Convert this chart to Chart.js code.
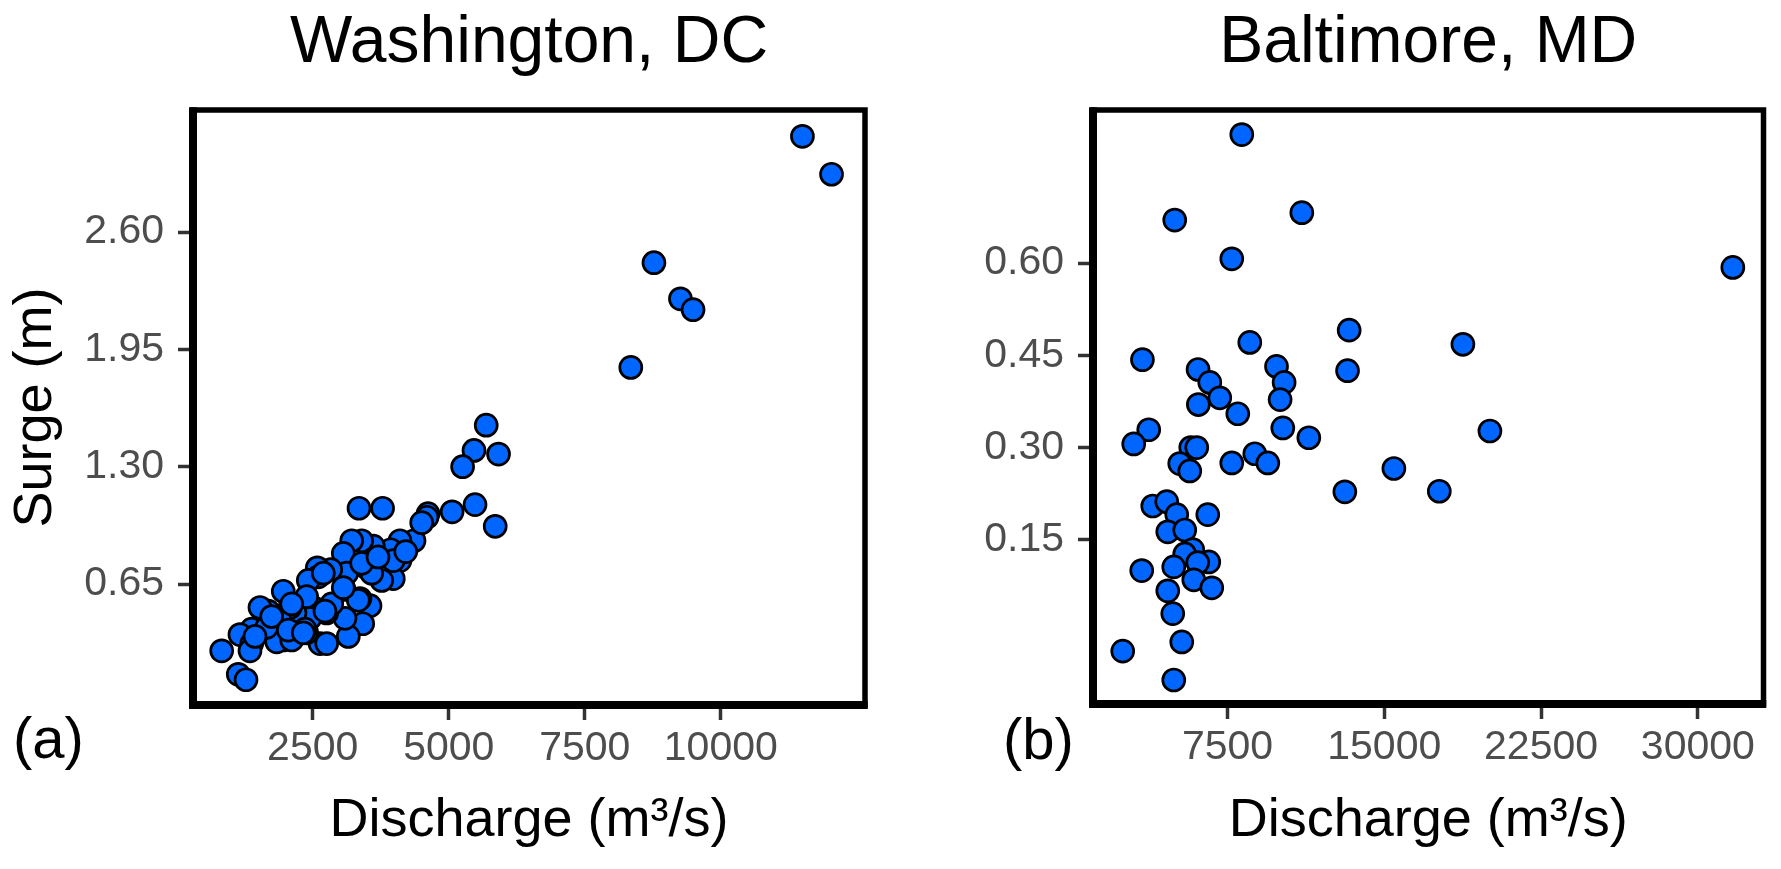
<!DOCTYPE html>
<html lang="en">
    <head>
        <meta charset="UTF-8" />
        <title>Surge vs discharge</title>
        <script src="https://cdn.jsdelivr.net/npm/chart.js"></script>
        <style>
            body {
                margin: 0;
                background: #fff;
                width: 1781px;
                height: 869px;
                overflow: hidden;
                position: relative;
                font-family: 'Liberation Sans', Arial, sans-serif;
            }
            canvas {
                position: absolute;
                top: 0;
            }
            #dcChart { left: 0; }
            #balChart { left: 900px; }
            /* panel letters */
            .tag {
                position: absolute;
                font-size: 58px;
                line-height: 58px;
                color: #000;
            }
        </style>
    </head>
    <body>
        <canvas id="dcChart" width="890" height="869"></canvas>
        <canvas id="balChart" width="881" height="869"></canvas>
        <div class="tag" style="left: 13px; top: 709px">(a)</div>
        <div class="tag" style="left: 1003px; top: 710px">(b)</div>

        <script>
            // Washington, DC
            const dcDischarge = [
                11500, 12035, 8771, 9258, 9490, 8346, 5689, 5464, 5915, 5255,
                5483, 5854, 5062, 4619, 4600, 3351, 3784, 4362, 4104, 3933,
                4104, 3981, 3768, 3614, 3400, 3217, 3062, 3492, 3584, 3553,
                3369, 3075, 3125, 2831, 2584, 2603, 2419, 3419, 3154, 3093,
                2757, 2634, 2757, 2849, 2511, 2450, 2389, 2174, 2083, 1959,
                1684, 1531, 1899, 1959, 1838, 2114, 1379, 1163, 1379, 1347,
                827, 1132, 1274, 2358, 1654, 2695, 3982, 3400, 1746, 2051,
                2389, 2114, 4503, 3338, 3062, 2726, 2327, 1440, 4210, 3700,
            ];
            const dcSurge = [
                3.13, 2.92, 2.43, 2.23, 2.17, 1.85, 1.53, 1.39, 1.37, 1.3,
                1.09, 0.97, 1.05, 1.04, 1.02, 1.07, 1.07, 0.89, 0.89, 0.84,
                0.78, 0.68, 0.67, 0.86, 0.89, 0.89, 0.82, 0.74, 0.71, 0.53,
                0.57, 0.62, 0.71, 0.73, 0.74, 0.69, 0.67, 0.43, 0.36, 0.46,
                0.49, 0.32, 0.32, 0.54, 0.52, 0.46, 0.38, 0.49, 0.52, 0.61,
                0.5, 0.52, 0.45, 0.34, 0.33, 0.34, 0.4, 0.37, 0.32, 0.28,
                0.28, 0.15, 0.12, 0.4, 0.41, 0.71, 0.78, 0.765, 0.47, 0.395,
                0.58, 0.54, 0.99, 0.56, 0.63, 0.5, 0.38, 0.36, 0.83, 0.8,
            ];
            const dcXTicks = [2500, 5000, 7500, 10000];
            const dcYTicks = [0.65, 1.3, 1.95, 2.6];

            // Baltimore, MD
            const balDischarge = [
                8184, 4977, 11056, 7705, 31673, 13320, 8567, 18761, 3432, 13243,
                6093, 6653, 7131, 6107, 9845, 10209, 10017, 7993, 10146, 11391,
                20053, 3733, 3015, 5743, 6030, 5217, 5695, 7705, 8806, 9428,
                15459, 13114, 17632, 3925, 4595, 5073, 6557, 4643, 5456, 5839,
                5456, 4930, 6605, 6078, 3398, 5887, 6748, 4643, 4882, 5313,
                2489, 4930,
            ];
            const balSurge = [
                0.809, 0.67, 0.682, 0.607, 0.593, 0.491, 0.471, 0.468, 0.443, 0.425,
                0.427, 0.406, 0.381, 0.37, 0.432, 0.406, 0.378, 0.355, 0.332, 0.316,
                0.327, 0.329, 0.306, 0.3, 0.3, 0.274, 0.262, 0.275, 0.29, 0.275,
                0.266, 0.228, 0.229, 0.205, 0.212, 0.191, 0.191, 0.163, 0.166, 0.134,
                0.127, 0.106, 0.114, 0.113, 0.1, 0.085, 0.072, 0.067, 0.03, -0.016,
                -0.031, -0.078,
            ];
            const balXTicks = [7500, 15000, 22500, 30000];
            const balYTicks = [0.15, 0.3, 0.45, 0.6];

            const FONT = "'Liberation Sans', Arial, sans-serif";
            Chart.defaults.font.family = FONT;

            // thick black panel border, heavier on the axis sides
            const framePlugin = {
                id: 'frame',
                afterDatasetsDraw(chart) {
                    const { ctx, chartArea: a } = chart;
                    ctx.save();
                    ctx.strokeStyle = '#000';
                    ctx.lineJoin = 'miter';
                    ctx.lineWidth = 5.5;
                    ctx.strokeRect(a.left, a.top, a.right - a.left, a.bottom - a.top);
                    ctx.lineWidth = 8;
                    ctx.beginPath();
                    ctx.moveTo(a.left, a.top - 2.75);
                    ctx.lineTo(a.left, a.bottom);
                    ctx.lineTo(a.right + 2.75, a.bottom);
                    ctx.stroke();
                    ctx.restore();
                },
            };

            function makeChart(id, opts) {
                const points = opts.xs.map((x, i) => ({ x: x, y: opts.ys[i] }));
                return new Chart(document.getElementById(id), {
                    type: 'scatter',
                    data: {
                        datasets: [
                            {
                                data: points,
                                pointRadius: 11,
                                pointHoverRadius: 11,
                                borderWidth: 2.7,
                                borderColor: '#000',
                                backgroundColor: '#0066FF',
                            },
                        ],
                    },
                    options: {
                        responsive: false,
                        animation: false,
                        events: [],
                        layout: { padding: { left: 0, right: opts.padRight, top: 0, bottom: 0 } },
                        plugins: {
                            legend: { display: false },
                            tooltip: { enabled: false },
                            title: {
                                display: true,
                                text: opts.title,
                                fullSize: false,
                                color: '#000',
                                font: { family: FONT, size: 66, weight: 'normal', lineHeight: 1 },
                                padding: { top: 10.8, bottom: 33.2 },
                            },
                        },
                        scales: {
                            x: {
                                type: 'linear',
                                min: opts.xMin,
                                max: opts.xMax,
                                afterBuildTicks: (s) => {
                                    s.ticks = opts.xTicks.map((v) => ({ value: v }));
                                },
                                afterFit: (s) => {
                                    s.height = opts.xHeight;
                                },
                                border: { display: false },
                                grid: {
                                    display: true,
                                    drawOnChartArea: false,
                                    drawTicks: true,
                                    tickLength: 15,
                                    tickWidth: 3.5,
                                    tickColor: '#333333',
                                },
                                ticks: {
                                    autoSkip: false,
                                    maxRotation: 0,
                                    color: '#4D4D4D',
                                    padding: 4.5,
                                    font: { size: 41 },
                                    callback: (v) => String(v),
                                },
                                title: {
                                    display: true,
                                    text: 'Discharge (m³/s)',
                                    color: '#000',
                                    font: { size: 54, lineHeight: 1.2 },
                                    padding: { top: 0, bottom: 15 },
                                },
                            },
                            y: {
                                type: 'linear',
                                min: opts.yMin,
                                max: opts.yMax,
                                afterBuildTicks: (s) => {
                                    s.ticks = opts.yTicks.map((v) => ({ value: v }));
                                },
                                afterFit: (s) => {
                                    s.width = 193;
                                },
                                border: { display: false },
                                grid: {
                                    display: true,
                                    drawOnChartArea: false,
                                    drawTicks: true,
                                    tickLength: 15,
                                    tickWidth: 3.5,
                                    tickColor: '#333333',
                                },
                                ticks: {
                                    color: '#4D4D4D',
                                    padding: 14,
                                    font: { size: 41 },
                                    callback: (v) => v.toFixed(2),
                                },
                                title: {
                                    display: opts.yTitle !== '',
                                    text: opts.yTitle,
                                    color: '#000',
                                    font: { size: 54, lineHeight: 1.2 },
                                    padding: { top: 3.9, bottom: 0 },
                                },
                            },
                        },
                    },
                    plugins: [framePlugin],
                });
            }

            makeChart('dcChart', {
                xs: dcDischarge,
                ys: dcSurge,
                title: 'Washington, DC',
                yTitle: 'Surge (m)',
                xMin: 300,
                xMax: 12650,
                yMin: -0.02,
                yMax: 3.276,
                xTicks: dcXTicks,
                yTicks: dcYTicks,
                padRight: 25,
                xHeight: 164,
            });

            makeChart('balChart', {
                xs: balDischarge,
                ys: balSurge,
                title: 'Baltimore, MD',
                yTitle: '',
                xMin: 1067,
                xMax: 33140,
                yMin: -0.117,
                yMax: 0.849,
                xTicks: balXTicks,
                yTicks: balYTicks,
                padRight: 17.5,
                xHeight: 165,
            });
        </script>
    </body>
</html>
